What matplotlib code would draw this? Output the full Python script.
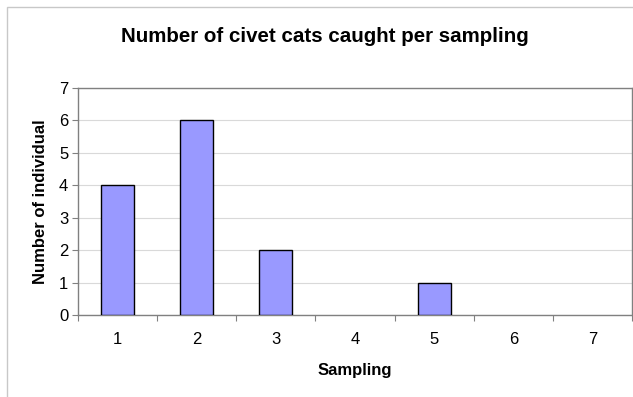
import matplotlib
matplotlib.use("Agg")
import matplotlib.pyplot as plt
from matplotlib.patches import Rectangle

# data
samplings = [1, 2, 3, 4, 5, 6, 7]
counts = [4, 6, 2, 0, 1, 0, 0]
y_ticks = [0, 1, 2, 3, 4, 5, 6, 7]

plt.rcParams["font.family"] = ["Liberation Sans", "DejaVu Sans"]

W, H = 633, 397
fig = plt.figure(figsize=(W / 100, H / 100), dpi=100)

# outer chart frame (cropped at right and bottom like the reference)
fig.patches.append(Rectangle((7 / W, -0.1), 1.2, 1 - 7 / H + 0.1,
                             transform=fig.transFigure, fill=False,
                             edgecolor="#c8c8c8", linewidth=1.0))

left, right, top, bottom = 78, 632, 88, 315
ax = fig.add_axes([left / W, 1 - bottom / H, (right - left) / W, (bottom - top) / H])

# empty samplings get no outline, so nothing is drawn over the axis line
edge_widths = [1.0 if c > 0 else 0 for c in counts]
ax.bar(samplings, counts, width=0.42, color="#9999ff", edgecolor="black",
       linewidth=edge_widths, zorder=3)

ax.set_xlim(0.5, 7.5)
ax.set_ylim(0, 7)
ax.set_yticks(y_ticks)
ax.set_xticks(samplings)
ax.tick_params(axis="x", length=0, pad=12, labelsize=12)
ax.tick_params(axis="y", length=4, width=0.8, color="#808080", pad=3, labelsize=12)
# category boundary tick marks below the x axis
ax.set_xticks([s + 0.5 for s in [0] + samplings], minor=True)
ax.tick_params(axis="x", which="minor", length=4, width=0.8, color="#808080")

ax.grid(axis="y", color="#d9d9d9", linewidth=0.8, zorder=0)
for side in ax.spines.values():
    side.set_color("#808080")
    side.set_linewidth(1.0)

ax.set_xlabel("Sampling", fontsize=12, fontweight="bold", labelpad=12)
ax.set_ylabel("Number of individual", fontsize=12, fontweight="bold", labelpad=8)
fig.text(325 / W, 1 - 37 / H, "Number of civet cats caught per sampling",
         ha="center", va="center", fontsize=14.8, fontweight="bold")

fig.savefig("out.png", dpi=100)
